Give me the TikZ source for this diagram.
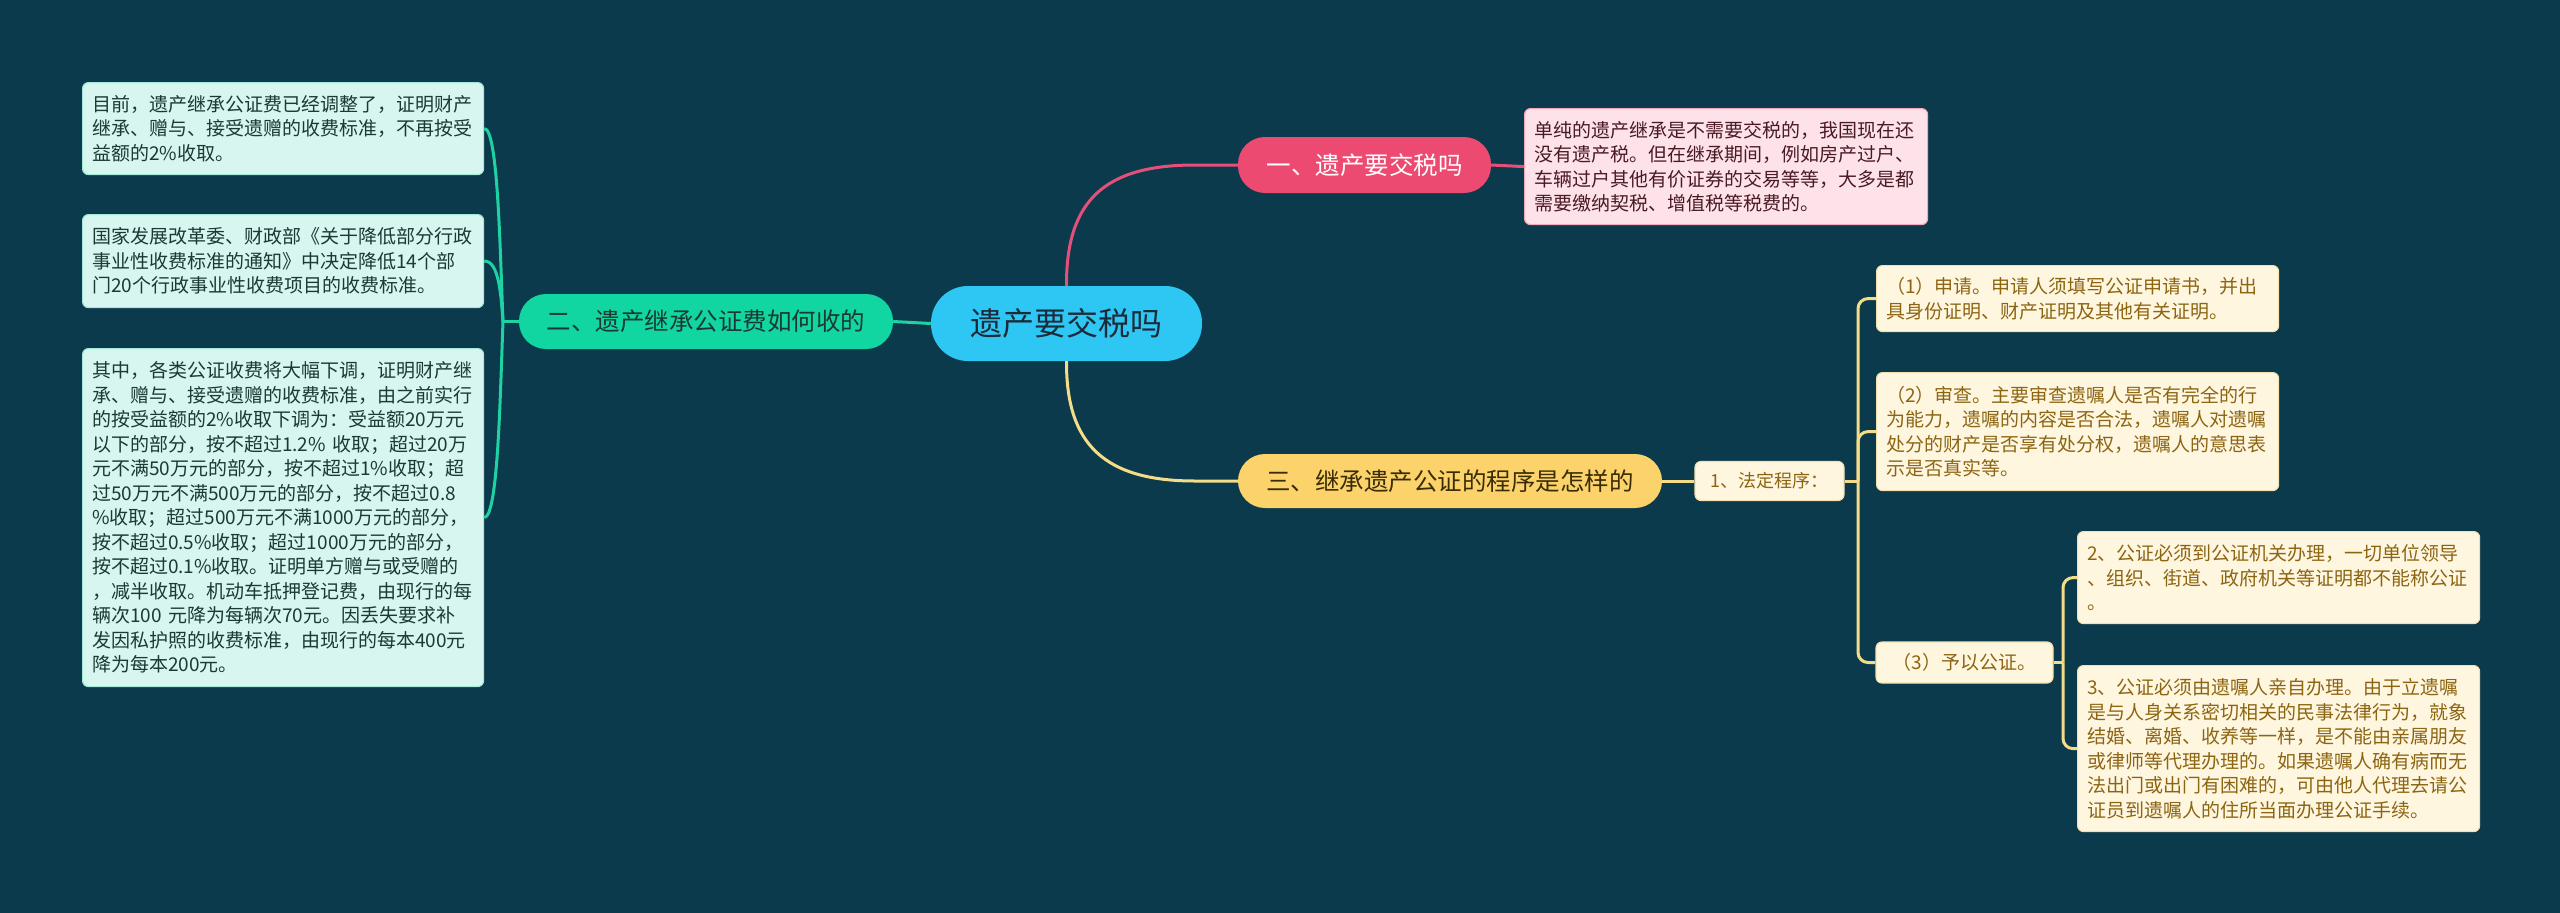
\documentclass[tikz,border=0pt]{standalone}
\usepackage{fontspec}
\setmainfont{Noto Sans CJK SC}
\usetikzlibrary{calc}
\definecolor{bg}{HTML}{0B3A4C}
\definecolor{rootf}{HTML}{2EC6F3}
\definecolor{roott}{HTML}{1C2B3A}
\definecolor{pkf}{HTML}{EC4A70}
\definecolor{pkline}{HTML}{E4507A}
\definecolor{pkleaf}{HTML}{FDE3E9}
\definecolor{pkleafb}{HTML}{F4A9BA}
\definecolor{pktext}{HTML}{4A1A24}
\definecolor{grf}{HTML}{12D6A1}
\definecolor{grline}{HTML}{1FD2A3}
\definecolor{grt}{HTML}{183A33}
\definecolor{mintf}{HTML}{D6F6EF}
\definecolor{mintb}{HTML}{A6E9DA}
\definecolor{mintt}{HTML}{1E3834}
\definecolor{ylf}{HTML}{FCD36A}
\definecolor{ylt}{HTML}{3A2C05}
\definecolor{ylline}{HTML}{F4DC88}
\definecolor{creamf}{HTML}{FFF6E0}
\definecolor{creamb}{HTML}{F3E2B0}
\definecolor{creamt}{HTML}{8C6512}
\begin{document}
\begin{tikzpicture}[x=1pt,y=-1pt,
  leafbase/.style={rounded corners=6pt, line width=1.2pt, anchor=north west,
    inner xsep=9.5pt, inner ysep=0pt, align=left,
    font=\fontsize{19}{24.5}\selectfont},
  mintleaf/.style={leafbase, draw=mintb, fill=mintf, text=mintt, text width=382pt},
  pinkleaf/.style={leafbase, draw=pkleafb, fill=pkleaf, text=pktext, text width=384pt},
  creamleaf/.style={leafbase, draw=creamb, fill=creamf, text=creamt, text width=383pt},
  smallcream/.style={rounded corners=6pt, line width=1.2pt, draw=creamb, fill=creamf,
    text=creamt, inner sep=0pt, font=\fontsize{18}{22}\selectfont},
  pill/.style={inner sep=0pt, font=\fontsize{24.5}{28}\selectfont},
  grl/.style={draw=grline, line width=3pt},
  pkl/.style={draw=pkline, line width=3pt},
  yll/.style={draw=ylline, line width=3pt},
]
\useasboundingbox (0,0) rectangle (2560,913);
\fill[bg] (0,0) rectangle (2560,913);

% root
\node[pill, fill=rootf, text=roott, minimum width=271pt, minimum height=75pt,
  rounded corners=37pt, font=\fontsize{32}{36}\selectfont] (root) at (1066.5,323.5) {遗产要交税吗};

% branches
\node[pill, fill=pkf, text=white, minimum width=253pt, minimum height=56pt,
  rounded corners=27pt] (b1) at (1364.5,165) {一、遗产要交税吗};
\node[pill, fill=grf, text=grt, minimum width=374pt, minimum height=55pt,
  rounded corners=27pt] (b2) at (706,321.5) {二、遗产继承公证费如何收的};
\node[pill, fill=ylf, text=ylt, minimum width=424pt, minimum height=54pt,
  rounded corners=27pt] (b3) at (1450,481) {三、继承遗产公证的程序是怎样的};

% pink leaf
\node[pinkleaf, minimum height=116pt] (p1) at (1524,108) {单纯的遗产继承是不需要交税的，我国现在还\\没有遗产税。但在继承期间，例如房产过户、\\车辆过户其他有价证券的交易等等，大多是都\\需要缴纳契税、增值税等税费的。};

% mint leaves
\node[mintleaf, minimum height=92pt] (l1) at (82,82) {目前，遗产继承公证费已经调整了，证明财产\\继承、赠与、接受遗赠的收费标准，不再按受\\益额的2\%收取。};
\node[mintleaf, minimum height=93pt] (l2) at (82,214) {国家发展改革委、财政部《关于降低部分行政\\事业性收费标准的通知》中决定降低14个部\\门20个行政事业性收费项目的收费标准。};
\node[mintleaf, minimum height=338pt] (l3) at (82,348) {其中，各类公证收费将大幅下调，证明财产继\\承、赠与、接受遗赠的收费标准，由之前实行\\的按受益额的2\%收取下调为：受益额20万元\\以下的部分，按不超过1.2\% 收取；超过20万\\元不满50万元的部分，按不超过1\%收取；超\\过50万元不满500万元的部分，按不超过0.8\\\%收取；超过500万元不满1000万元的部分，\\按不超过0.5\%收取；超过1000万元的部分，\\按不超过0.1\%收取。证明单方赠与或受赠的\\，减半收取。机动车抵押登记费，由现行的每\\辆次100 元降为每辆次70元。因丢失要求补\\发因私护照的收费标准，由现行的每本400元\\降为每本200元。};

% procedure nodes
\node[smallcream, minimum width=149pt, minimum height=39pt] (fd) at (1769.5,481) {1、法定程序：};
\node[creamleaf, minimum height=66pt] (y1) at (1876,265) {（1）申请。申请人须填写公证申请书，并出\\具身份证明、财产证明及其他有关证明。};
\node[creamleaf, minimum height=118pt] (y2) at (1876,372) {（2）审查。主要审查遗嘱人是否有完全的行\\为能力，遗嘱的内容是否合法，遗嘱人对遗嘱\\处分的财产是否享有处分权，遗嘱人的意思表\\示是否真实等。};
\node[smallcream, minimum width=177pt, minimum height=41pt, font=\fontsize{19}{22}\selectfont] (y3) at (1964.5,662.5) {（3）予以公证。};
\node[creamleaf, minimum height=92pt] (z1) at (2077,531) {2、公证必须到公证机关办理，一切单位领导\\、组织、街道、政府机关等证明都不能称公证\\。};
\node[creamleaf, minimum height=166pt] (z2) at (2077,665) {3、公证必须由遗嘱人亲自办理。由于立遗嘱\\是与人身关系密切相关的民事法律行为，就象\\结婚、离婚、收养等一样，是不能由亲属朋友\\或律师等代理办理的。如果遗嘱人确有病而无\\法出门或出门有困难的，可由他人代理去请公\\证员到遗嘱人的住所当面办理公证手续。};

% connectors
\begin{scope}[on background layer/.style={}]
\end{scope}
\draw[pkl] (root.north) .. controls (1066,200) and (1105,165) .. (1195,165) -- (b1.west);
\draw[pkl] (b1.east) -- (p1.west);
\draw[yll] (root.south) .. controls (1066,445) and (1105,481) .. (1195,481) -- (b3.west);
\draw[yll] (b3.east) -- (fd.west);
\draw[grl] (root.west) -- (b2.east);

\coordinate (gj) at (503,321.5);
\draw[grl] (b2.west) -- (gj);
\draw[grl] (gj) .. controls (500,250) and (498,127.5) .. (l1.east);
\draw[grl] (gj) .. controls (501,295) and (499,260.5) .. (l2.east);
\draw[grl] (gj) .. controls (500,400) and (498,517) .. (l3.east);

\coordinate (yj) at (1858,481);
\draw[yll] (fd.east) -- (yj);
\draw[yll, rounded corners=10pt] (yj) |- (y1.west);
\draw[yll, rounded corners=10pt] (yj) |- (y2.west);
\draw[yll, rounded corners=10pt] (yj) |- (y3.west);

\coordinate (zj) at (2063,662.5);
\draw[yll] (y3.east) -- (zj);
\draw[yll, rounded corners=10pt] (zj) |- (z1.west);
\draw[yll, rounded corners=10pt] (zj) |- (z2.west);
\end{tikzpicture}
\end{document}
